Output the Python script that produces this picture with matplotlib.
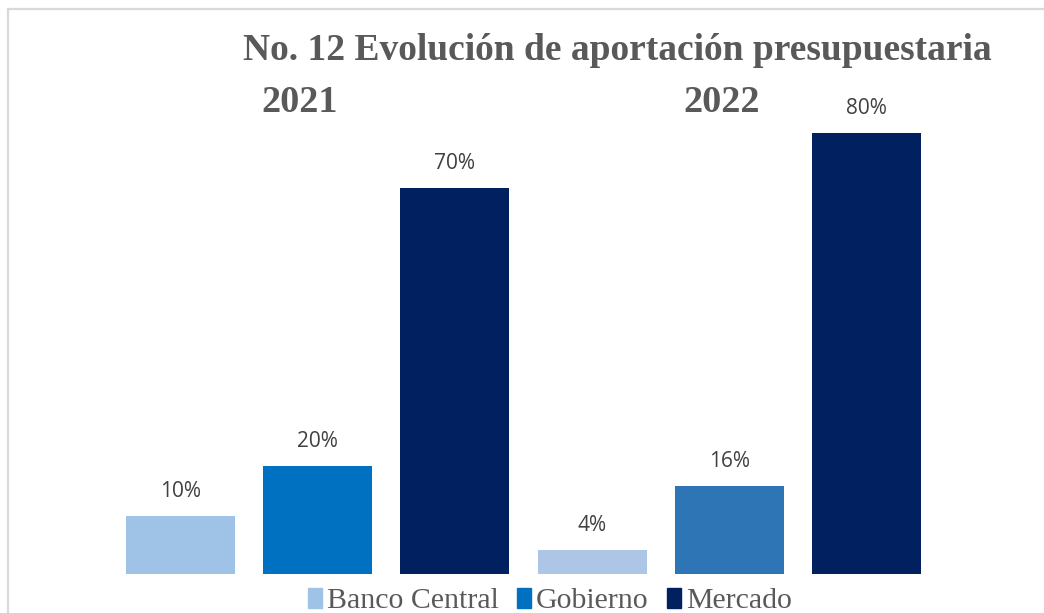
import matplotlib.pyplot as plt
from matplotlib.lines import Line2D
from matplotlib.patches import Patch

# data
years = ["2021", "2022"]
series = ["Banco Central", "Gobierno", "Mercado"]
values_2021 = [10.5, 19.6, 70.0]
values_2022 = [4.4, 16.0, 80.0]
labels_2021 = ["10%", "20%", "70%"]
labels_2022 = ["4%", "16%", "80%"]

colors_2021 = ["#9FC3E7", "#0070C0", "#002060"]
colors_2022 = ["#ADC6E6", "#2E75B5", "#002060"]

W, H = 1044, 613
fig = plt.figure(figsize=(W / 100, H / 100), dpi=100)

# axes spans full width; bottom at y=574 px, 80% reaches y=133 px
ax = fig.add_axes([0, 1 - 574 / H, 1, (574 - 133) / H])
ax.set_ylim(0, 80)
step = 137.2
ax.set_xlim(-180.5 / step, (W - 180.5) / step)
ax.axis("off")

vals = values_2021 + values_2022
labs = labels_2021 + labels_2022
cols = colors_2021 + colors_2022
pos = list(range(len(vals)))
bars = ax.bar(pos, vals, width=0.795, color=cols)
for b, lab in zip(bars, labs):
    ax.annotate(lab, (b.get_x() + b.get_width() / 2, b.get_height()),
                xytext=(0, 10), textcoords="offset points", ha="center", va="bottom",
                fontsize=15, color="#404040", family="Open Sans", clip_on=False)

serif = "Liberation Serif"
fig.text(617 / W, 1 - 51 / H, "No. 12 Evolución de aportación presupuestaria",
         ha="center", va="center", fontsize=27, fontweight="bold", color="#595959", family=serif)
fig.text(300 / W, 1 - 103 / H, years[0], ha="center", va="center",
         fontsize=27.5, fontweight="bold", color="#595959", family=serif)
fig.text(722 / W, 1 - 103 / H, years[1], ha="center", va="center",
         fontsize=27.5, fontweight="bold", color="#595959", family=serif)

handles = [Patch(color=c) for c in colors_2021]
leg = fig.legend(handles, series, loc="center", bbox_to_anchor=(550 / W, 1 - 601 / H),
                 ncol=3, frameon=False, handlelength=0.47, handleheight=0.7,
                 handletextpad=0.17, columnspacing=0.6, borderpad=0,
                 prop={"family": serif, "size": 21.5})
for t in leg.get_texts():
    t.set_color("#595959")

# chart border (top and left visible)
fig.add_artist(Line2D([8 / W, 1], [1 - 9 / H, 1 - 9 / H], color="#D9D9D9", lw=1.6))
fig.add_artist(Line2D([8 / W, 8 / W], [0, 1 - 9 / H], color="#D9D9D9", lw=1.6))

fig.savefig("out.png", dpi=100)
